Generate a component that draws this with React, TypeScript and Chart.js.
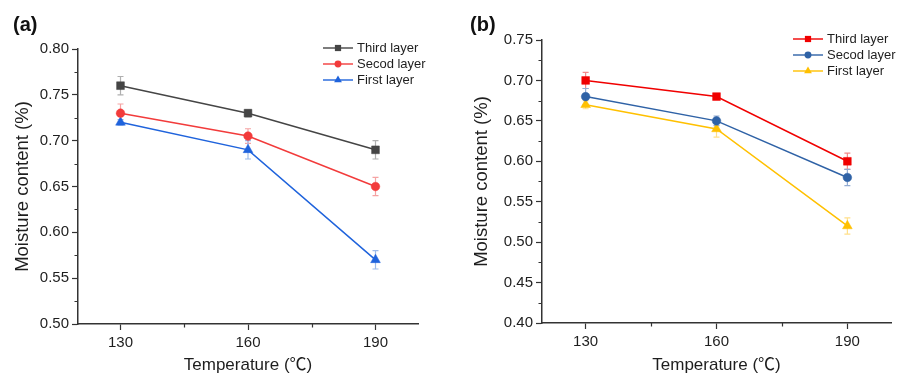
import React, { useEffect, useRef } from 'react';
import { Chart, registerables } from 'chart.js';

Chart.register(...registerables);

// ---------- data ----------
const temperatures = [130, 160, 190];
const xTickValues = [130, 160, 190];
const xMinorTickValues = [145, 175];
const seriesLabels = ['Third layer', 'Secod layer', 'First layer'];

const thirdA = [0.76, 0.73, 0.69];
const thirdAErr = [0.01, 0.004, 0.01];
const secondA = [0.73, 0.705, 0.65];
const secondAErr = [0.01, 0.008, 0.01];
const firstA = [0.72, 0.69, 0.57];
const firstAErr = [0.003, 0.01, 0.01];

const thirdB = [0.7, 0.68, 0.6];
const thirdBErr = [0.01, 0.003, 0.01];
const secondB = [0.68, 0.65, 0.58];
const secondBErr = [0.01, 0.006, 0.01];
const firstB = [0.67, 0.64, 0.52];
const firstBErr = [0.005, 0.01, 0.01];

const yRangeA = [0.5, 0.8];
const yRangeB = [0.4, 0.75];
const yStep = 0.05;
const xRange = [120, 200];

const FONT = "'Liberation Sans', Arial, 'Noto Sans CJK SC', sans-serif";
const AXIS = '#333333';
const TEXT = '#1e1e1e';

type Style = 'rect' | 'circle' | 'triangle';

type PanelCfg = {
  tag: string;
  tagX: number;
  tagY: number;
  width: number;
  height: number;
  area: { left: number; right: number; top: number; bottom: number };
  yRange: number[];
  series: number[][];
  errors: number[][];
  colors: string[];
  errColors: string[];
  styles: Style[];
  radii: number[];
  legend: { x0: number; x1: number; textX: number; y0: number; row: number };
  yTitlePad: number;
};

function drawMarker(ctx: CanvasRenderingContext2D, style: Style, x: number, y: number, r: number, color: string) {
  ctx.save();
  ctx.fillStyle = color;
  ctx.beginPath();
  if (style === 'rect') {
    const s = r * Math.SQRT1_2;
    ctx.rect(x - s, y - s, 2 * s, 2 * s);
  } else if (style === 'circle') {
    ctx.arc(x, y, r, 0, Math.PI * 2);
  } else {
    let a = 0;
    ctx.moveTo(x + Math.sin(a) * r, y - Math.cos(a) * r);
    a += (2 * Math.PI) / 3;
    ctx.lineTo(x + Math.sin(a) * r, y - Math.cos(a) * r);
    a += (2 * Math.PI) / 3;
    ctx.lineTo(x + Math.sin(a) * r, y - Math.cos(a) * r);
    ctx.closePath();
  }
  ctx.fill();
  ctx.restore();
}

function Panel({ cfg }: { cfg: PanelCfg }) {
  const ref = useRef<HTMLCanvasElement | null>(null);

  useEffect(() => {
    if (!ref.current) return;
    const { area, width, height } = cfg;

    const errorBars = {
      id: 'errorBars',
      beforeDatasetsDraw(chart: any) {
        const ctx = chart.ctx as CanvasRenderingContext2D;
        const ys = chart.scales.y;
        cfg.series.forEach((vals, i) => {
          const meta = chart.getDatasetMeta(i);
          ctx.save();
          ctx.strokeStyle = cfg.errColors[i];
          ctx.lineWidth = 1.2;
          vals.forEach((v, j) => {
            const e = cfg.errors[i][j];
            const x = meta.data[j].x;
            const yt = ys.getPixelForValue(v + e);
            const yb = ys.getPixelForValue(v - e);
            ctx.beginPath();
            ctx.moveTo(x, yt);
            ctx.lineTo(x, yb);
            ctx.moveTo(x - 3, yt);
            ctx.lineTo(x + 3, yt);
            ctx.moveTo(x - 3, yb);
            ctx.lineTo(x + 3, yb);
            ctx.stroke();
          });
          ctx.restore();
        });
      },
    };

    const extras = {
      id: 'extras',
      afterDraw(chart: any) {
        const ctx = chart.ctx as CanvasRenderingContext2D;
        const xs = chart.scales.x;
        const ys = chart.scales.y;
        const ca = chart.chartArea;
        ctx.save();
        // minor ticks
        ctx.strokeStyle = AXIS;
        ctx.lineWidth = 1.2;
        ctx.beginPath();
        for (let v = cfg.yRange[0] + yStep / 2; v < cfg.yRange[1]; v += yStep) {
          const py = Math.round(ys.getPixelForValue(v)) + 0.5;
          ctx.moveTo(ca.left - 3.5, py);
          ctx.lineTo(ca.left, py);
        }
        xMinorTickValues.forEach((v) => {
          const px = Math.round(xs.getPixelForValue(v)) + 0.5;
          ctx.moveTo(px, ca.bottom);
          ctx.lineTo(px, ca.bottom + 3.5);
        });
        ctx.stroke();

        // legend
        const L = cfg.legend;
        ctx.font = `13px ${FONT}`;
        ctx.textBaseline = 'middle';
        ctx.textAlign = 'left';
        seriesLabels.forEach((lab, i) => {
          const y = L.y0 + i * L.row;
          ctx.strokeStyle = cfg.colors[i];
          ctx.lineWidth = 1.4;
          ctx.beginPath();
          ctx.moveTo(L.x0, y);
          ctx.lineTo(L.x1, y);
          ctx.stroke();
          drawMarker(ctx, cfg.styles[i], (L.x0 + L.x1) / 2, y, cfg.radii[i] * 0.8, cfg.colors[i]);
          ctx.fillStyle = TEXT;
          ctx.fillText(lab, L.textX, y + 0.5);
        });

        // panel tag
        ctx.font = `bold 20px ${FONT}`;
        ctx.fillStyle = '#111';
        ctx.textBaseline = 'middle';
        ctx.fillText(cfg.tag, cfg.tagX, cfg.tagY);
        ctx.restore();
      },
    };

    const chart = new Chart(ref.current, {
      type: 'line',
      data: {
        datasets: cfg.series.map((vals, i) => ({
          label: seriesLabels[i],
          data: vals.map((v, j) => ({ x: temperatures[j], y: v })),
          borderColor: cfg.colors[i],
          backgroundColor: cfg.colors[i],
          pointBackgroundColor: cfg.colors[i],
          pointBorderColor: cfg.colors[i],
          pointBorderWidth: 0.5,
          pointStyle: cfg.styles[i],
          pointRadius: cfg.radii[i],
          borderWidth: 1.5,
          tension: 0,
          fill: false,
        })),
      },
      options: {
        animation: false,
        responsive: false,
        devicePixelRatio: 1,
        layout: {
          padding: { left: 0, top: area.top, right: width - area.right, bottom: 0 },
        },
        plugins: {
          legend: { display: false },
          tooltip: { enabled: false },
        },
        scales: {
          x: {
            type: 'linear',
            min: xRange[0],
            max: xRange[1],
            afterBuildTicks: (s: any) => {
              s.ticks = xTickValues.map((v) => ({ value: v }));
            },
            afterFit: (s: any) => {
              s.height = height - area.bottom;
            },
            ticks: {
              font: { size: 15, family: FONT },
              color: TEXT,
              padding: 4,
              maxRotation: 0,
              autoSkip: false,
              callback: (v: any) => String(v),
            },
            grid: {
              drawOnChartArea: false,
              drawTicks: true,
              tickLength: 6,
              tickColor: AXIS,
              tickWidth: 1.2,
            },
            border: { display: true, color: AXIS, width: 1.5 },
            title: {
              display: true,
              text: 'Temperature (℃)',
              font: { size: 17, family: FONT, lineHeight: 1 },
              color: TEXT,
              padding: { top: 0, bottom: 0 },
            },
          },
          y: {
            type: 'linear',
            min: cfg.yRange[0],
            max: cfg.yRange[1],
            afterFit: (s: any) => {
              s.width = area.left;
            },
            ticks: {
              stepSize: yStep,
              font: { size: 15, family: FONT },
              color: TEXT,
              padding: 3,
              callback: (v: any) => Number(v).toFixed(2),
            },
            grid: {
              drawOnChartArea: false,
              drawTicks: true,
              tickLength: 6,
              tickColor: AXIS,
              tickWidth: 1.2,
            },
            border: { display: true, color: AXIS, width: 1.5 },
            title: {
              display: true,
              text: 'Moisture content (%)',
              font: { size: 18.5, family: FONT, lineHeight: 1.2 },
              color: TEXT,
              padding: { top: cfg.yTitlePad, bottom: 0 },
            },
          },
        },
      } as any,
      plugins: [errorBars, extras],
    });
    return () => chart.destroy();
  }, [cfg]);

  return <canvas ref={ref} width={cfg.width} height={cfg.height} style={{ display: 'block', width: cfg.width, height: cfg.height }} />;
}

const panelA: PanelCfg = {
  tag: '(a)',
  tagX: 13,
  tagY: 25,
  width: 455,
  height: 374,
  area: { left: 78, right: 418, top: 49, bottom: 324 },
  yRange: yRangeA,
  series: [thirdA, secondA, firstA],
  errors: [thirdAErr, secondAErr, firstAErr],
  colors: ['#454545', '#f23b3b', '#1f63dc'],
  errColors: ['#b0b0b0', '#f5a3a3', '#9dbbea'],
  styles: ['rect', 'circle', 'triangle'],
  radii: [5.5, 4.3, 5.6],
  legend: { x0: 323, x1: 353, textX: 357, y0: 48, row: 16 },
  yTitlePad: 12,
};

const panelB: PanelCfg = {
  tag: '(b)',
  tagX: 15,
  tagY: 25,
  width: 454,
  height: 374,
  area: { left: 87, right: 436, top: 40, bottom: 323 },
  yRange: yRangeB,
  series: [thirdB, secondB, firstB],
  errors: [thirdBErr, secondBErr, firstBErr],
  colors: ['#f00000', '#2f62a6', '#ffc000'],
  errColors: ['#f48a8a', '#93acd2', '#ffe08a'],
  styles: ['rect', 'circle', 'triangle'],
  radii: [5.5, 4.3, 5.6],
  legend: { x0: 338, x1: 368, textX: 372, y0: 39, row: 16 },
  yTitlePad: 16,
};

export default function App() {
  return (
    <div style={{ position: 'absolute', left: 0, top: 0, width: 909, height: 374, background: '#fff', display: 'flex' }}>
      <Panel cfg={panelA} />
      <Panel cfg={panelB} />
    </div>
  );
}
